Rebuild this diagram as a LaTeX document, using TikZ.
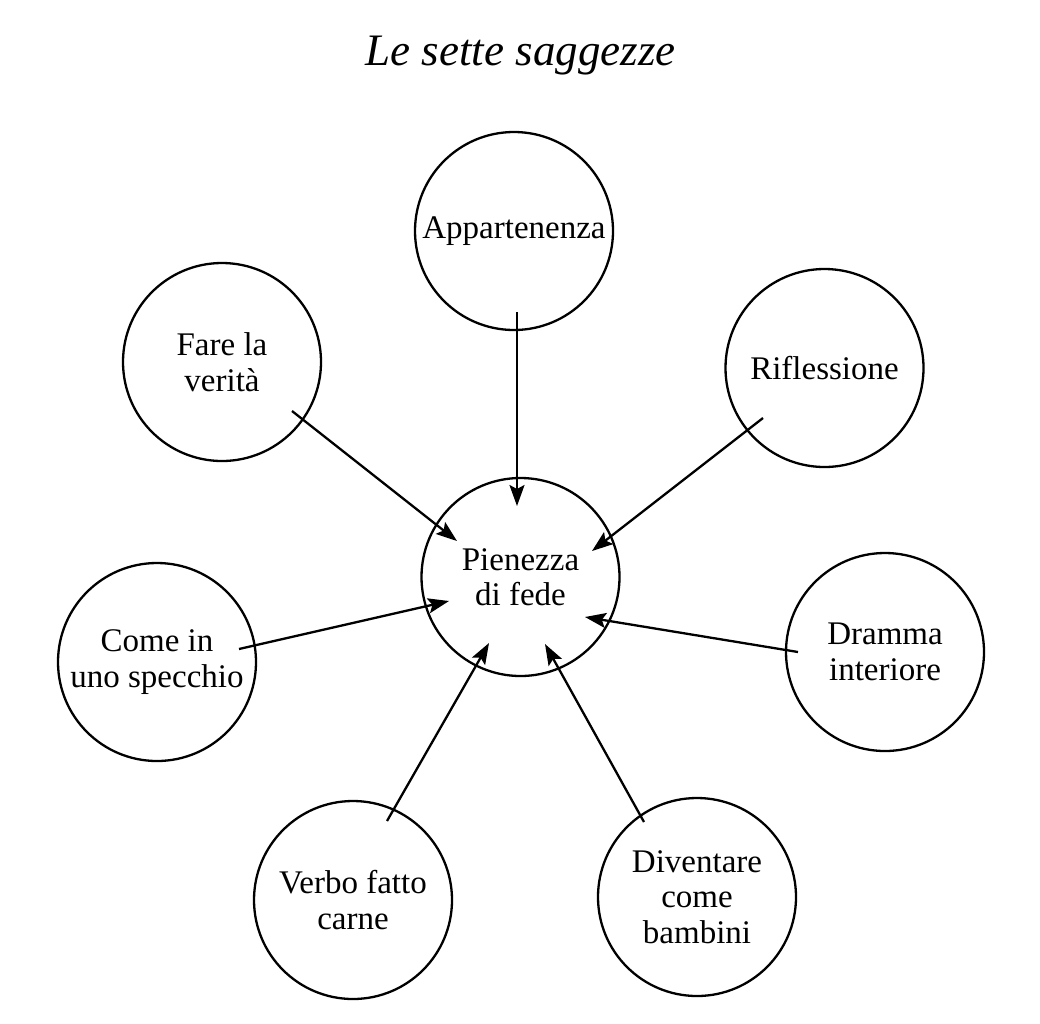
\documentclass[tikz,border=0pt]{standalone}
\usepackage{fontspec}
\setmainfont{Liberation Serif}
\usetikzlibrary{arrows.meta,calc}
\tikzset{
  wisdom/.style={circle, draw, line width=2.3pt, minimum size=198pt, inner sep=0pt,
    align=center, font=\fontsize{33}{35.5}\selectfont},
  arr/.style={line width=2.3pt, -{Stealth[length=21pt,width=15pt,inset=4pt]}},
  titlestyle/.style={font=\fontsize{45}{50}\selectfont\itshape, anchor=base, inner sep=0pt}
}
\begin{document}
\begin{tikzpicture}[x=1pt,y=-1pt]
\useasboundingbox (0,0) rectangle (1040,1023);
\node[titlestyle] (title) at (520.5,65) {Le sette saggezze};
\node[wisdom] (app) at (514,231) {Appartenenza};
\node[wisdom] (fare) at (222,362) {Fare la\\verità};
\node[wisdom] (rifl) at (824.5,368) {Riflessione};
\node[wisdom] (pf) at (520.5,577) {Pienezza\\di fede};
\node[wisdom] (come) at (157,662) {Come in\\uno specchio};
\node[wisdom] (dramma) at (885,652) {Dramma\\interiore};
\node[wisdom] (verbo) at (353,900) {Verbo fatto\\carne};
\node[wisdom] (div) at (697,897) {Diventare\\come\\bambini};
\draw[arr] ($(app)+(3,81)$) -- ($(pf)+(-3.5,-71)$);
\draw[arr] ($(fare)+(70,49)$) -- ($(pf)+(-63.5,-36)$);
\draw[arr] ($(rifl)+(-61.5,50)$) -- ($(pf)+(71.5,-26)$);
\draw[arr] ($(come)+(82,-13)$) -- ($(pf)+(-71.5,24)$);
\draw[arr] ($(dramma)+(-87,0)$) -- ($(pf)+(64.5,40)$);
\draw[arr] ($(verbo)+(34,-79)$) -- ($(pf)+(-31.5,66)$);
\draw[arr] ($(div)+(-53,-75)$) -- ($(pf)+(24.5,67)$);
\end{tikzpicture}
\end{document}
